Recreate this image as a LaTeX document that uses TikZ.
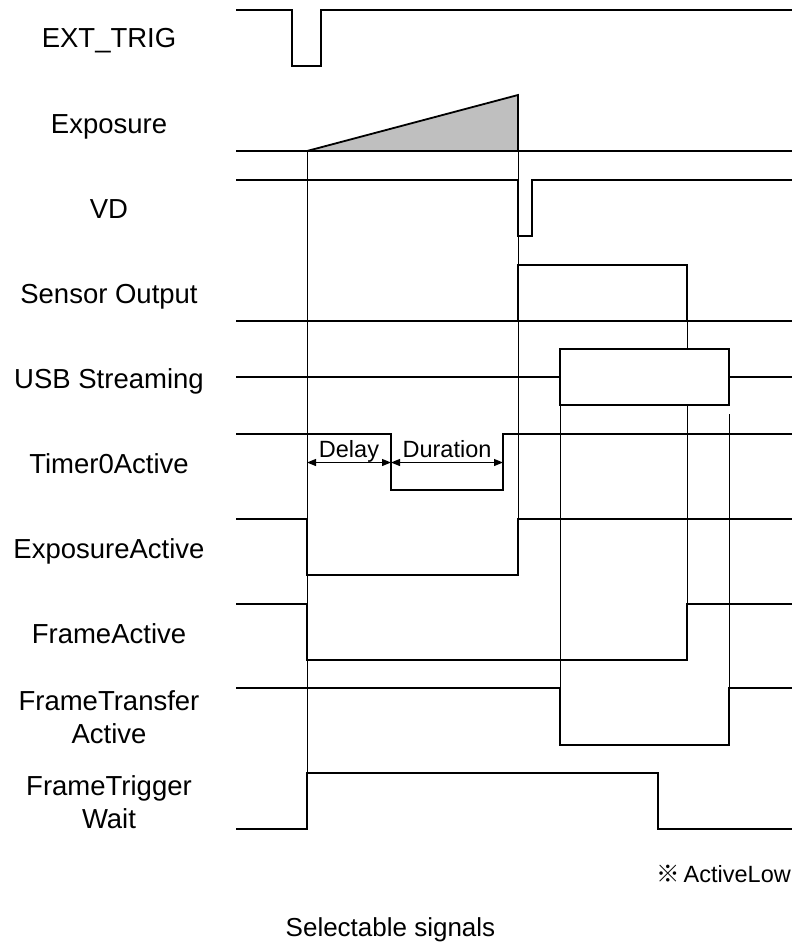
\documentclass[tikz,border=0pt]{standalone}
\usepackage{fontspec}
\setmainfont{Liberation Sans}
\newfontfamily\cjkfont{Noto Sans CJK JP}
\usetikzlibrary{arrows.meta}

\begin{document}
\begin{tikzpicture}[
  x=1pt, y=-1pt,
  >={Triangle[length=9pt,width=7pt]},
  sig/.style={line width=1.8pt, line join=miter},
  guide/.style={line width=0.9pt},
  dim/.style={<->, line width=1.1pt},
  lbl/.style={font=\fontsize{27.5}{33}\selectfont, anchor=base, inner sep=0pt},
  lbltwo/.style={font=\fontsize{27.5}{33}\selectfont, align=center, anchor=north, inner sep=0pt},
  dimlbl/.style={font=\fontsize{23.5}{28}\selectfont, anchor=base, yshift=5.5pt, inner sep=0pt},
]
\useasboundingbox (0,0) rectangle (792,943);
% ---------------- signal names ----------------
\node[lbl] (extTrig)   at (109,47)  {EXT\_TRIG};
\node[lbl] (expo)      at (109,133) {Exposure};
\node[lbl] (vd)        at (109,218) {VD};
\node[lbl] (sensOut)   at (109,303) {Sensor Output};
\node[lbl] (usbStream) at (109,388) {USB Streaming};
\node[lbl] (timerAct)  at (109,473) {Timer0Active};
\node[lbl] (expoAct)   at (109,558) {ExposureActive};
\node[lbl] (frameAct)  at (109,643) {FrameActive};
\node[lbltwo] (xferAct)  at (109,690) {FrameTransfer\\Active};
\node[lbltwo] (trigWait) at (109,775) {FrameTrigger\\Wait};
% ---------------- waveforms ----------------
% EXT_TRIG
\draw[sig] (236,10) -- (292,10) -- (292,66) -- (321,66) -- (321,10) -- (792,10);
% Exposure (ramp)
\draw[sig] (236,151) -- (792,151);
\filldraw[sig, fill=black!25] (307,151) -- (518,95) -- (518,151) -- cycle;
% VD
\draw[sig] (236,180) -- (518,180) -- (518,236) -- (532,236) -- (532,180) -- (792,180);
% Sensor Output
\draw[sig] (236,321) -- (792,321);
\draw[sig] (518,321) -- (518,265) -- (687,265) -- (687,321);
% USB Streaming
\draw[sig] (236,377) -- (560,377);
\draw[sig] (729,377) -- (792,377);
\draw[sig] (560,349) rectangle (729,405);
% Timer0Active
\draw[sig] (236,434) -- (391,434) -- (391,490) -- (503,490) -- (503,434) -- (792,434);
% ExposureActive
\draw[sig] (236,519) -- (307,519) -- (307,575) -- (518,575) -- (518,519) -- (792,519);
% FrameActive
\draw[sig] (236,604) -- (307,604) -- (307,660) -- (687,660) -- (687,604) -- (792,604);
% FrameTransferActive
\draw[sig] (236,688) -- (560,688) -- (560,745) -- (729,745) -- (729,688) -- (792,688);
% FrameTriggerWait
\draw[sig] (236,829) -- (307,829) -- (307,773) -- (658,773) -- (658,829) -- (792,829);
% ---------------- timing guides ----------------
\draw[guide] (307,151) -- (307,773);
\draw[guide] (518,151) -- (518,519);
\draw[guide] (560,405) -- (560,688);
\draw[guide] (687,321) -- (687,349);
\draw[guide] (687,405) -- (687,604);
\draw[guide] (729,414) -- (729,688);
% Delay / Duration
\coordinate (dlyStart) at (307,462.5);
\coordinate (dlyEnd)   at (391,462.5);
\coordinate (durEnd)   at (503,462.5);
\draw[dim] (dlyStart) -- node[dimlbl] (dlyTxt) {Delay} (dlyEnd);
\draw[dim] (dlyEnd) -- node[dimlbl] (durTxt) {Duration} (durEnd);
% ---------------- notes ----------------
\node[font=\fontsize{23.5}{28}\selectfont, anchor=base east, inner sep=0pt] (lowNote) at (791,882)
  {{\cjkfont ※}\,ActiveLow};
\node[font=\fontsize{26}{31}\selectfont, anchor=base, inner sep=0pt] (selNote) at (390.5,936)
  {Selectable signals};
\end{tikzpicture}
\end{document}
